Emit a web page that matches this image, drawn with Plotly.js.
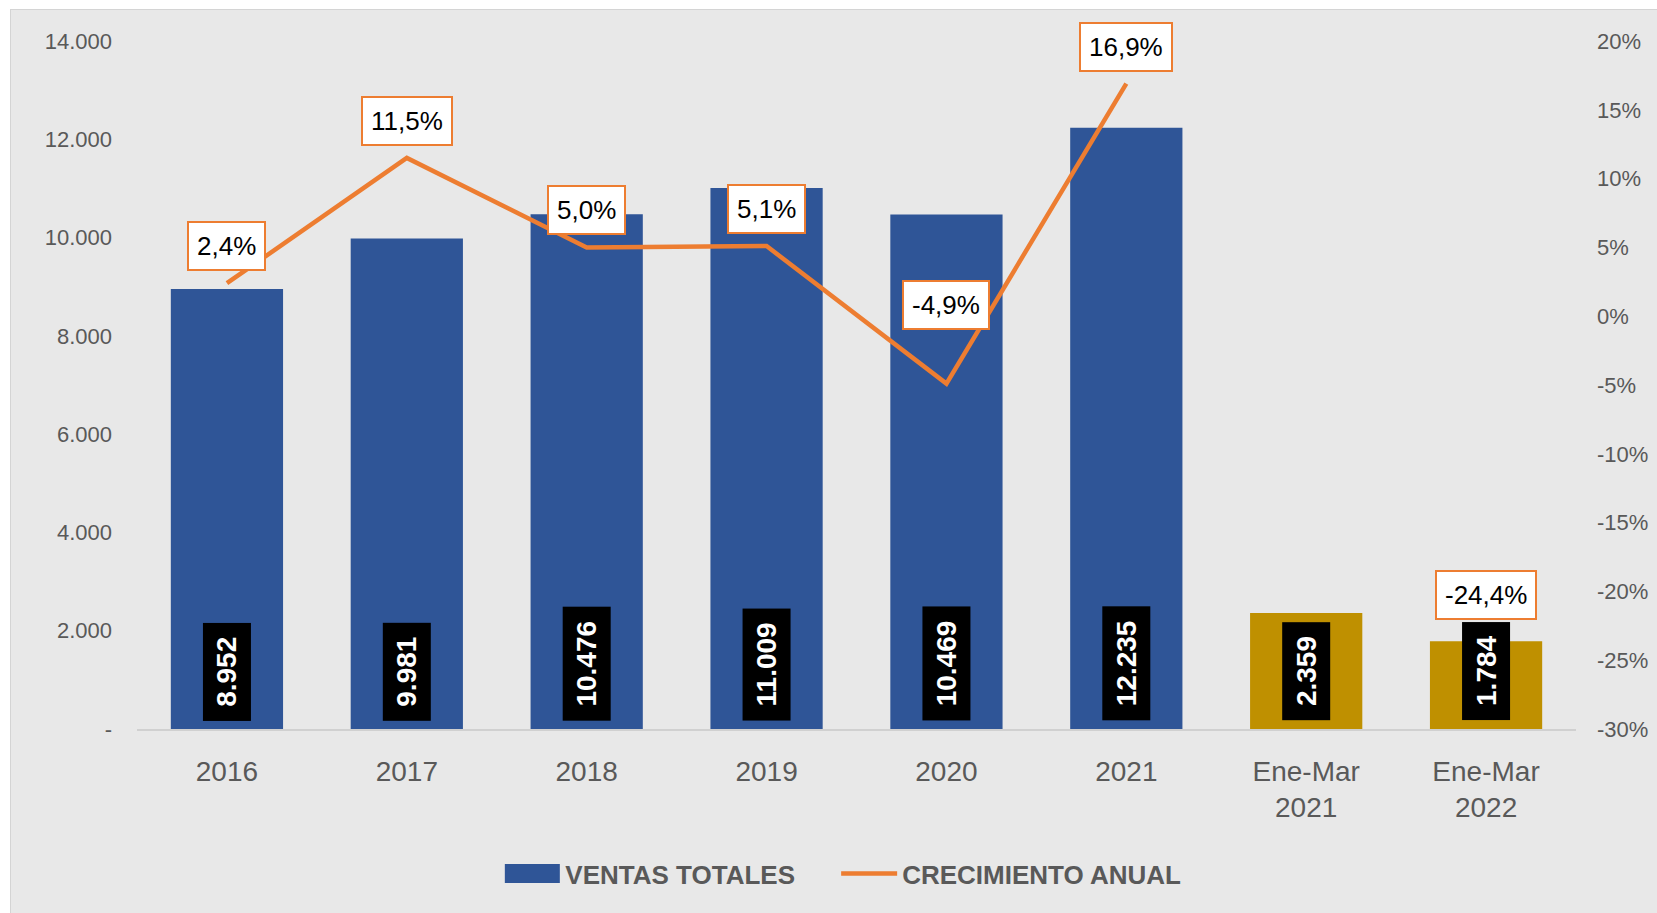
<!DOCTYPE html>
<html><head><meta charset="utf-8">
<script src="https://cdn.plot.ly/plotly-3.0.1.min.js"></script>
<style>
html,body{margin:0;padding:0;background:#ffffff;}
#chart{position:absolute;left:10px;top:9px;width:1647px;height:904px;border-left:1px solid #d4d4d4;border-top:1px solid #d4d4d4;box-sizing:border-box;background:#e8e8e8;}
</style></head><body><div id="chart"></div>
<script>
// ---- data ----
const categories = ['2016', '2017', '2018', '2019', '2020', '2021', 'Ene-Mar<br>2021', 'Ene-Mar<br>2022'];
const ventasTotales = [8952, 9981, 10476, 11009, 10469, 12235, 2359, 1784];
const crecimientoAnual = [0.024, 0.115, 0.050, 0.051, -0.049, 0.169, null, -0.244];
const ventasLabels = ['8.952', '9.981', '10.476', '11.009', '10.469', '12.235', '2.359', '1.784'];
const crecimientoLabels = ['2,4%', '11,5%', '5,0%', '5,1%', '-4,9%', '16,9%', '', '-24,4%'];
const leftTickVals = [0, 2000, 4000, 6000, 8000, 10000, 12000, 14000];
const leftTickText = ['-', '2.000', '4.000', '6.000', '8.000', '10.000', '12.000', '14.000'];
const rightTickVals = [-0.30, -0.25, -0.20, -0.15, -0.10, -0.05, 0, 0.05, 0.10, 0.15, 0.20];
const rightTickText = ['-30%', '-25%', '-20%', '-15%', '-10%', '-5%', '0%', '5%', '10%', '15%', '20%'];

// ---- styles ----
const barColors = ['#2F5597', '#2F5597', '#2F5597', '#2F5597', '#2F5597', '#2F5597', '#BF9000', '#BF9000'];
const pctLabelShift = [37, 37, 37, 37, 79, 37, 0, 57];
const TS = '\u2009';
const NB = '\u00a0';

const traces = [
  {
    type: 'bar', name: 'VENTAS TOTALES' + NB.repeat(5), x: categories, y: ventasTotales,
    marker: {color: barColors}, hoverinfo: 'skip'
  },
  {
    type: 'scatter', mode: 'lines', name: 'CRECIMIENTO ANUAL', x: categories, y: crecimientoAnual,
    yaxis: 'y2', connectgaps: false, line: {color: '#ED7D31', width: 4.5}, hoverinfo: 'skip'
  }
];

const annotations = [];
categories.forEach((c, i) => {
  annotations.push({
    xref: 'x', yref: 'y', x: i, y: 0, yanchor: 'bottom', xanchor: 'center', yshift: 8,
    textangle: -90, showarrow: false, bgcolor: '#000000', borderpad: 8,
    text: '<b>' + TS + ventasLabels[i] + TS + '</b>',
    font: {family: 'Liberation Sans, Arial, sans-serif', size: 28, color: '#ffffff'}
  });
  if (crecimientoLabels[i] !== '') {
    annotations.push({
      xref: 'x', yref: 'y2', x: i, y: crecimientoAnual[i], yanchor: 'middle', xanchor: 'center',
      yshift: pctLabelShift[i], showarrow: false, bgcolor: '#ffffff', bordercolor: '#ED7D31',
      borderwidth: 2, borderpad: 8, text: crecimientoLabels[i],
      font: {family: 'Liberation Sans, Arial, sans-serif', size: 26, color: '#000000'}
    });
  }
});

const tickFont = {family: 'Liberation Sans, Arial, sans-serif', size: 22, color: '#595959'};

const layout = {
  width: 1646, height: 903,
  margin: {l: 126, r: 81, t: 31, b: 184},
  paper_bgcolor: '#e8e8e8', plot_bgcolor: '#e8e8e8',
  bargap: 0.376,
  showlegend: true,
  legend: {
    orientation: 'h', x: 0.4905, xanchor: 'center', y: -0.21, yanchor: 'middle',
    font: {family: 'Liberation Sans, Arial, sans-serif', size: 26, color: '#595959', weight: 'bold'},
    itemwidth: 56, bgcolor: 'rgba(0,0,0,0)', tracegroupgap: 0
  },
  xaxis: {
    type: 'category', range: [-0.5, 7.5], autorange: false, showgrid: false, zeroline: false,
    showline: true, linecolor: '#d0d0d0', linewidth: 2,
    ticks: '', ticklabelstandoff: 16,
    tickfont: {family: 'Liberation Sans, Arial, sans-serif', size: 28, color: '#595959'}
  },
  yaxis: {
    range: [0, 14000], autorange: false, showgrid: false, zeroline: false, showline: false,
    tickvals: leftTickVals, ticktext: leftTickText, ticks: '', ticklabelstandoff: 24,
    tickfont: tickFont
  },
  yaxis2: {
    overlaying: 'y', side: 'right', range: [-0.30, 0.20], autorange: false, showgrid: false, zeroline: false,
    showline: false, tickvals: rightTickVals, ticktext: rightTickText, ticks: '',
    ticklabelstandoff: 20, tickfont: tickFont
  },
  annotations: annotations
};

Plotly.newPlot('chart', traces, layout, {displayModeBar: false, staticPlot: true}).then(gd => {
  // enlarge the bar legend swatch to a wide rectangle like the original
  gd.querySelectorAll('.legend .traces').forEach(tr => {
    tr.querySelectorAll('.legendpoints path').forEach(p => {
      const cls = p.getAttribute('class') || '';
      if (cls.indexOf('legendbar') >= 0 || cls.indexOf('legendundefined') >= 0) {
        p.setAttribute('d', 'M27.5,9.5H-27.5V-9.5H27.5Z');
      }
    });
  });
});
</script>
</body></html>
